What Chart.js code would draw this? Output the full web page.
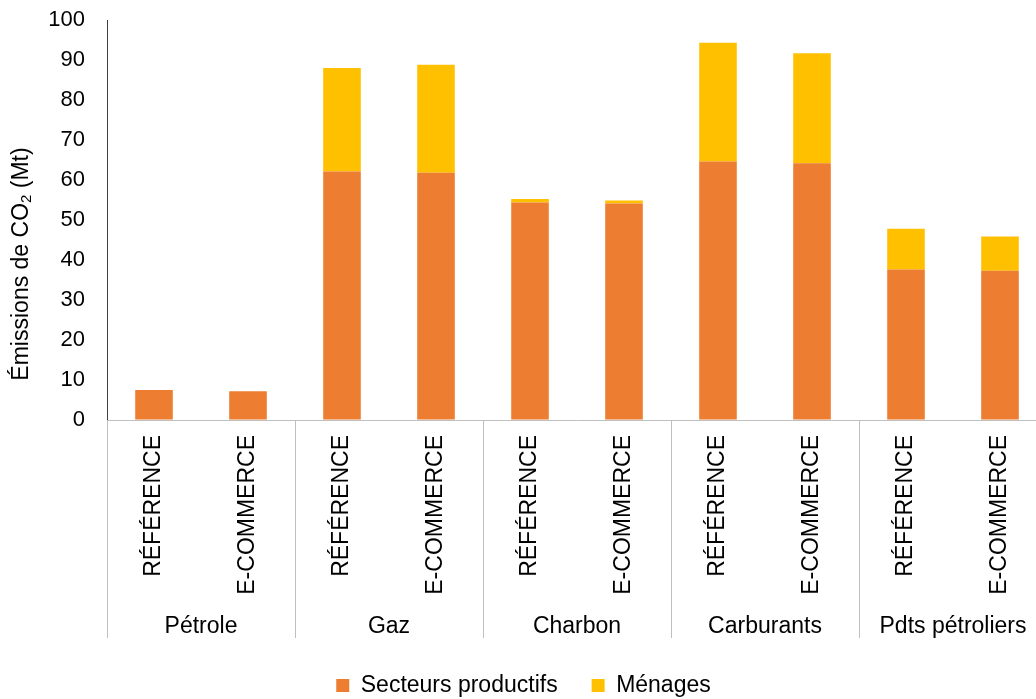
<!DOCTYPE html>
<html lang="fr">
<head>
<meta charset="utf-8">
<script src="https://cdn.jsdelivr.net/npm/chart.js@4.4.1/dist/chart.umd.min.js"></script>
<style>
  html, body { margin: 0; padding: 0; background: #fff; overflow: hidden; }
  #wrap { width: 1048px; height: 707px; position: relative; }
</style>
</head>
<body>
<div id="wrap"><canvas id="emissions"></canvas></div>
<script>
// Émissions de CO2 par énergie, scénario de référence vs e-commerce
const groupes = ['Pétrole', 'Gaz', 'Charbon', 'Carburants', 'Pdts pétroliers'];
const scenarios = ['RÉFÉRENCE', 'E-COMMERCE'];
const secteursProductifs = [7.5, 7.2, 62.1, 61.8, 54.4, 54.1, 64.6, 64.2, 37.6, 37.3];
const menages = [0, 0, 25.9, 27.0, 0.85, 0.8, 29.7, 27.5, 10.2, 8.6];
const yMin = 0, yMax = 100, yStep = 10;

const FONT = "'Liberation Sans', Arial, sans-serif";
const ORANGE = '#ED7D31';
const JAUNE = '#FFC000';

// une catégorie par couple (énergie, scénario)
const labels = [];
groupes.forEach(() => scenarios.forEach(s => labels.push(s)));

// lignes de séparation entre les groupes, sous l'axe
const separateurs = {
  id: 'separateurs',
  afterDraw(chart) {
    const x = chart.scales.x, x2 = chart.scales.x2;
    const demi = (x.getPixelForValue(1) - x.getPixelForValue(0)) / 2;
    const ctx = chart.ctx;
    ctx.save();
    ctx.strokeStyle = '#bfbfbf';
    ctx.lineWidth = 1;
    for (let i = 0; i <= groupes.length; i++) {
      const px = Math.round(x.getPixelForValue(i * scenarios.length) - demi) + 0.5;
      ctx.beginPath();
      ctx.moveTo(px, chart.chartArea.bottom);
      ctx.lineTo(px, x2.bottom - 2);
      ctx.stroke();
    }
    ctx.restore();
  }
};

// titre de l'axe Y avec CO2 en indice
const titreY = {
  id: 'titreY',
  afterDraw(chart) {
    const ctx = chart.ctx, a = chart.chartArea;
    const parts = [['Émissions de CO', 23, 0], ['2', 15, 5], [' (Mt)', 23, 0]];
    ctx.save();
    let total = 0;
    parts.forEach(p => { ctx.font = p[1] + 'px ' + FONT; total += ctx.measureText(p[0]).width; });
    ctx.translate(22, (a.top + a.bottom) / 2 + 44);
    ctx.rotate(-Math.PI / 2);
    ctx.fillStyle = '#000';
    ctx.textBaseline = 'middle';
    let cx = -total / 2;
    parts.forEach(p => {
      ctx.font = p[1] + 'px ' + FONT;
      ctx.fillText(p[0], cx, p[2]);
      cx += ctx.measureText(p[0]).width;
    });
    ctx.restore();
  }
};

new Chart(document.getElementById('emissions'), {
  type: 'bar',
  data: {
    labels: labels,
    datasets: [
      { label: 'Secteurs productifs', data: secteursProductifs, backgroundColor: ORANGE, barPercentage: 0.4, categoryPercentage: 1 },
      { label: 'Ménages', data: menages, backgroundColor: JAUNE, barPercentage: 0.4, categoryPercentage: 1 }
    ]
  },
  options: {
    responsive: true,
    maintainAspectRatio: false,
    animation: false,
    layout: { padding: { top: 20, right: 1, left: 0, bottom: 0 } },
    plugins: {
      legend: {
        position: 'bottom',
        labels: { boxWidth: 13, boxHeight: 13, padding: 34, color: '#000', font: { family: FONT, size: 23 } }
      },
      tooltip: { enabled: false }
    },
    scales: {
      x: {
        stacked: true,
        grid: { display: false },
        border: { color: '#bfbfbf' },
        ticks: { autoSkip: false, minRotation: 90, maxRotation: 90, padding: 7, color: '#000', font: { family: FONT, size: 23 } },
        afterFit: s => { s.height = 180; }
      },
      x2: {
        type: 'category',
        position: 'bottom',
        labels: groupes,
        offset: true,
        grid: { display: false },
        border: { display: false },
        ticks: { padding: 5, color: '#000', font: { family: FONT, size: 23 } },
        afterFit: s => { s.height = 40; }
      },
      y: {
        stacked: true,
        min: yMin, max: yMax,
        grid: { drawOnChartArea: false, drawTicks: true, tickLength: 20, color: 'rgba(0,0,0,0)' },
        border: { color: '#404040' },
        ticks: { stepSize: yStep, padding: 2, color: '#000', font: { family: FONT, size: 22 } },
        afterFit: s => { s.width = 107; }
      }
    }
  },
  plugins: [separateurs, titreY]
});
</script>
</body>
</html>
